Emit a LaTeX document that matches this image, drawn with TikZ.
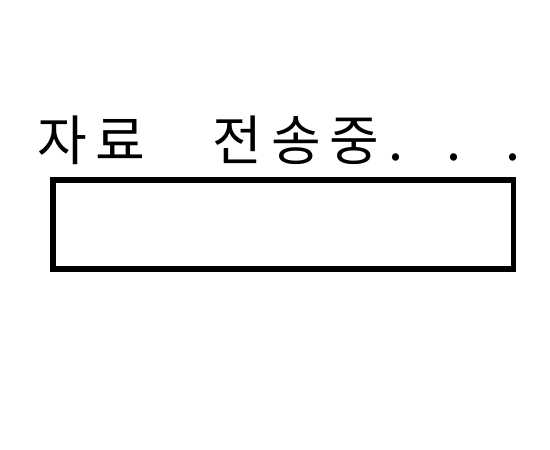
\documentclass[tikz,border=0pt]{standalone}
\usepackage{fontspec}
\newfontfamily\kr{Noto Sans CJK KR}
\newcommand{\cell}[1]{\makebox[58.5pt][l]{#1}}
\tikzset{
  title/.style={anchor=base west, inner sep=0pt, font=\kr\fontsize{54}{60}\selectfont},
  bar/.style={draw=black, line width=5.4pt, fill=none, outer sep=0pt, inner sep=0pt}
}
\begin{document}
\begin{tikzpicture}[x=1pt,y=1pt]
\useasboundingbox (0,0) rectangle (550,450);
\node[title] (caption) at (37,289) {\cell{자}\cell{료}\cell{}\cell{전}\cell{송}\cell{중}\cell{.}\cell{.}\cell{.}};
\node[bar, minimum width=460.7pt, minimum height=89pt, anchor=south west] (box) at (53,181) {};
\end{tikzpicture}
\end{document}
